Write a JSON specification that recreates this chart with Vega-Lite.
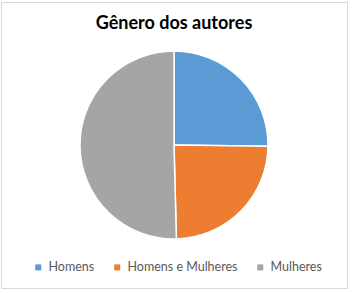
{
  "$schema": "https://vega.github.io/schema/vega-lite/v6.json",
  "width": 346,
  "height": 286,
  "autosize": {"type": "none"},
  "padding": {"left": 1, "top": 2, "right": 8, "bottom": 5},
  "background": "white",
  "view": {"stroke": "#d9d9d9", "strokeWidth": 1, "fill": "white"},
  "title": {
    "text": "Gênero dos autores",
    "font": "Lato",
    "fontSize": 18,
    "fontWeight": "bold",
    "color": "#000000",
    "anchor": "middle",
    "frame": "group",
    "baseline": "alphabetic",
    "offset": -45
  },
  "data": {
    "values": [
      {"genero": "Homens", "autores": 31},
      {"genero": "Homens e Mulheres", "autores": 30},
      {"genero": "Mulheres", "autores": 62}
    ]
  },
  "mark": {"type": "arc", "outerRadius": 94, "stroke": "white", "strokeWidth": 1.5},
  "encoding": {
    "theta": {"field": "autores", "type": "quantitative", "stack": true},
    "color": {
      "field": "genero",
      "type": "nominal",
      "scale": {
        "domain": ["Homens", "Homens e Mulheres", "Mulheres"],
        "range": ["#5B9BD5", "#ED7D31", "#A5A5A5"]
      },
      "legend": {
        "title": null,
        "orient": "none",
        "direction": "horizontal",
        "legendX": 31,
        "legendY": 259,
        "padding": 0,
        "symbolType": "square",
        "symbolSize": 36,
        "symbolStrokeWidth": 0,
        "labelFont": "Lato",
        "labelFontSize": 12.5,
        "labelColor": "#595959",
        "labelOffset": 4,
        "columnPadding": 16
      }
    }
  }
}
